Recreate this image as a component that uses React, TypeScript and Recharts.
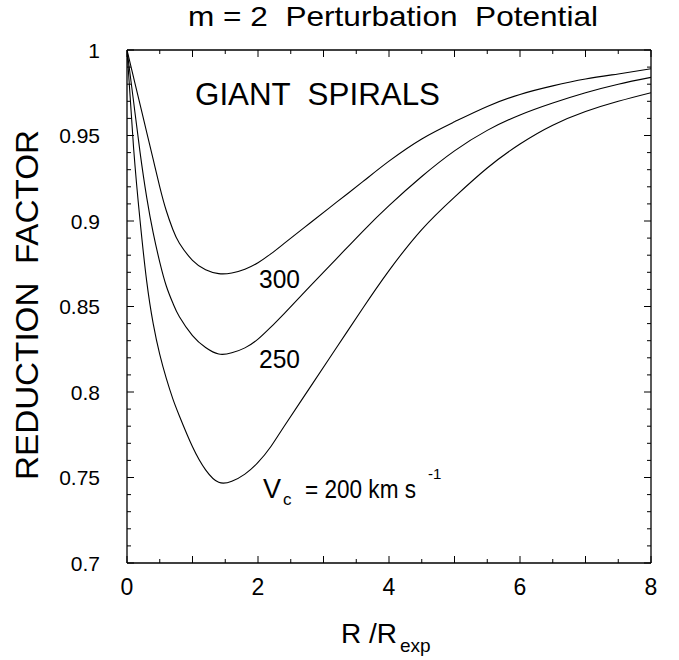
import React from 'react';
import { LineChart, Line, XAxis, YAxis } from 'recharts';

const rValues = [0, 0.1, 0.2, 0.3, 0.4, 0.5, 0.6, 0.7, 0.8, 1.0, 1.2, 1.4, 1.6, 1.8, 2.0, 2.2, 2.4, 2.8, 3.2, 3.6, 4.0, 4.5, 5.0, 5.5, 6.0, 6.5, 7.0, 7.5, 8.0];
const vc200 = [1.0, 0.943, 0.900, 0.865, 0.840, 0.822, 0.808, 0.796, 0.786, 0.768, 0.7545, 0.7472, 0.7478, 0.752, 0.7588, 0.7683, 0.780, 0.803, 0.826, 0.849, 0.871, 0.895, 0.914, 0.931, 0.945, 0.956, 0.964, 0.970, 0.975];
const vc250 = [1.0, 0.970, 0.940, 0.914, 0.893, 0.876, 0.862, 0.852, 0.844, 0.833, 0.826, 0.8222, 0.8229, 0.8258, 0.8309, 0.8381, 0.8458, 0.862, 0.878, 0.894, 0.909, 0.926, 0.941, 0.953, 0.962, 0.969, 0.975, 0.980, 0.984];
const vc300 = [1.0, 0.984, 0.968, 0.952, 0.936, 0.920, 0.906, 0.895, 0.887, 0.877, 0.8715, 0.8692, 0.8696, 0.8718, 0.8756, 0.8809, 0.8869, 0.899, 0.911, 0.923, 0.935, 0.948, 0.958, 0.967, 0.974, 0.979, 0.983, 0.986, 0.989];

const xTicks = [0, 0.5, 1, 1.5, 2, 2.5, 3, 3.5, 4, 4.5, 5, 5.5, 6, 6.5, 7, 7.5, 8];
const xLabelTicks = [0, 2, 4, 6, 8];
const yTicks = [0.70, 0.71, 0.72, 0.73, 0.74, 0.75, 0.76, 0.77, 0.78, 0.79, 0.80, 0.81, 0.82, 0.83, 0.84, 0.85, 0.86, 0.87, 0.88, 0.89, 0.90, 0.91, 0.92, 0.93, 0.94, 0.95, 0.96, 0.97, 0.98, 0.99, 1.00];
const yLabelTicks = [0.7, 0.75, 0.8, 0.85, 0.9, 0.95, 1];

const toData = (vals: number[]) => rValues.map((r, i) => ({ r, v: vals[i] }));
const d200 = toData(vc200);
const d250 = toData(vc250);
const d300 = toData(vc300);

const FONT = '"Liberation Sans", Arial, sans-serif';
const W = 679;
const H = 660;
const XD: [number, number] = [0, 8];
const YD: [number, number] = [0.7, 1];
const MAJ = 7;
const MIN = 4;

const isIn = (arr: number[], v: number) => arr.some((a) => Math.abs(a - v) < 1e-6);

const makeXTick = (side: 'bottom' | 'top') => (props: any) => {
  const { x, y, payload } = props;
  const v = payload.value as number;
  const len = Math.abs(v - Math.round(v)) < 1e-6 ? MAJ : MIN;
  const dir = side === 'bottom' ? -1 : 1;
  return (
    <g>
      <line x1={x} y1={y} x2={x} y2={y + dir * len} stroke="#000" strokeWidth={1} />
      {side === 'bottom' && isIn(xLabelTicks, v) ? (
        <text x={x} y={y + 32} textAnchor="middle" fontSize={23} fontFamily={FONT} fill="#000">{String(v)}</text>
      ) : null}
    </g>
  );
};

const makeYTick = (side: 'left' | 'right') => (props: any) => {
  const { x, y, payload } = props;
  const v = payload.value as number;
  const major = isIn(yLabelTicks, v);
  const len = major ? MAJ : MIN;
  const dir = side === 'left' ? 1 : -1;
  return (
    <g>
      <line x1={x} y1={y} x2={x + dir * len} y2={y} stroke="#000" strokeWidth={1} />
      {side === 'left' && major ? (
        <text x={x - 27} y={y + 7.5} textAnchor="end" fontSize={21} fontFamily={FONT} fill="#000">{String(Number(v.toFixed(2)))}</text>
      ) : null}
    </g>
  );
};

export default function App() {
  const axisLine = { stroke: '#000', strokeWidth: 1.3 };
  return (
    <div style={{ position: 'absolute', left: 0, top: 0, width: W, height: H, background: '#fff' }}>
      <LineChart width={W} height={H} margin={{ top: 49, right: 27, bottom: 96, left: 126 }}>
        <XAxis xAxisId="x" dataKey="r" type="number" domain={XD} allowDataOverflow ticks={xTicks} interval={0} height={1}
          tickSize={0} tickMargin={0} tickLine={false} axisLine={axisLine} tick={makeXTick('bottom')} />
        <XAxis xAxisId="xTop" orientation="top" dataKey="r" type="number" domain={XD} allowDataOverflow ticks={xTicks} interval={0} height={1}
          tickSize={0} tickMargin={0} tickLine={false} axisLine={axisLine} tick={makeXTick('top')} />
        <YAxis yAxisId="y" type="number" domain={YD} allowDataOverflow ticks={yTicks} interval={0} width={1}
          tickSize={0} tickMargin={0} tickLine={false} axisLine={axisLine} tick={makeYTick('left')} />
        <YAxis yAxisId="yR" orientation="right" type="number" domain={YD} allowDataOverflow ticks={yTicks} interval={0} width={1}
          tickSize={0} tickMargin={0} tickLine={false} axisLine={axisLine} tick={makeYTick('right')} />

        <Line xAxisId="x" yAxisId="y" data={d300} dataKey="v" type="natural" stroke="#000" strokeWidth={1.1} dot={false} isAnimationActive={false} />
        <Line xAxisId="x" yAxisId="y" data={d250} dataKey="v" type="natural" stroke="#000" strokeWidth={1.1} dot={false} isAnimationActive={false} />
        <Line xAxisId="x" yAxisId="y" data={d200} dataKey="v" type="natural" stroke="#000" strokeWidth={1.1} dot={false} isAnimationActive={false} />
        <Line xAxisId="xTop" yAxisId="yR" data={d300} dataKey="v" type="natural" stroke="none" dot={false} isAnimationActive={false} />
      </LineChart>
      <svg width={W} height={H} style={{ position: 'absolute', left: 0, top: 0, pointerEvents: 'none' }} fontFamily={FONT}>
        <text x={188} y={26} fontSize={28} textLength={410} lengthAdjust="spacingAndGlyphs" style={{ whiteSpace: 'pre' }}>{'m = 2  Perturbation  Potential'}</text>
        <text x={195} y={105} fontSize={31} textLength={245} lengthAdjust="spacingAndGlyphs" style={{ whiteSpace: 'pre' }}>{'GIANT  SPIRALS'}</text>
        <text x={259} y={288} fontSize={25} textLength={41} lengthAdjust="spacingAndGlyphs">300</text>
        <text x={259} y={368} fontSize={25} textLength={41} lengthAdjust="spacingAndGlyphs">250</text>
        <text x={263} y={498} fontSize={27}>V</text>
        <text x={283} y={505} fontSize={17}>c</text>
        <text x={305} y={498} fontSize={25} textLength={111} lengthAdjust="spacingAndGlyphs" style={{ whiteSpace: 'pre' }}>{'= 200 km s'}</text>
        <text x={428} y={479} fontSize={15}>-1</text>
        <text x={341} y={643} fontSize={28}>R /R</text>
        <text x={400} y={652} fontSize={19}>exp</text>
        <text transform="translate(38,305) rotate(-90)" textAnchor="middle" fontSize={32} textLength={350} lengthAdjust="spacingAndGlyphs" style={{ whiteSpace: 'pre' }}>{'REDUCTION  FACTOR'}</text>
      </svg>
    </div>
  );
}
